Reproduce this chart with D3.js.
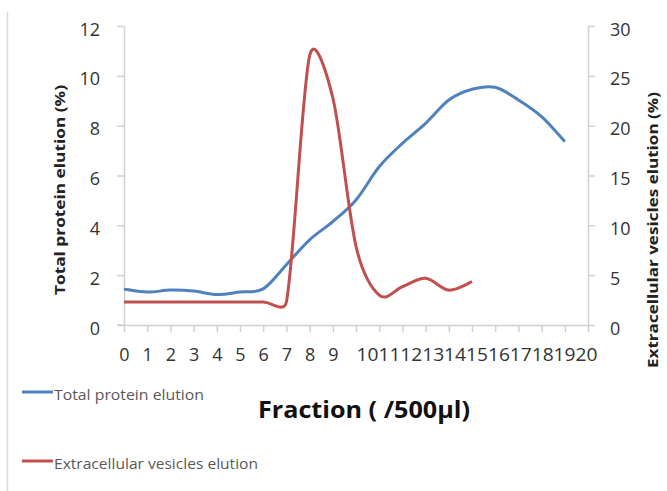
<!DOCTYPE html>
<html><head><meta charset="utf-8">
<script src="https://cdn.jsdelivr.net/npm/d3@7/dist/d3.min.js"></script>
<style>
html,body{margin:0;padding:0;background:#fff;}
svg{display:block;font-family:"Open Sans","Liberation Sans",sans-serif;}
</style></head>
<body>
<svg id="c" width="667" height="491"></svg>
<script>
// ---- data ----
const xTicks = d3.range(0, 21);            // fraction tick labels 0..20
const proteinFractions = d3.range(0, 20);  // 0..19
const proteinValues = [1.44, 1.32, 1.40, 1.36, 1.22, 1.32, 1.45, 2.42, 3.42, 4.15,
                       5.02, 6.35, 7.29, 8.09, 9.03, 9.46, 9.54, 9.03, 8.36, 7.36];
const vesicleFractions = d3.range(0, 16);  // 0..15
const vesicleValues = [2.3, 2.3, 2.3, 2.3, 2.3, 2.3, 2.3, 2.3, 27.0, 22.8,
                       7.9, 3.0, 3.84, 4.68, 3.5, 4.35];
const leftTicks = [0, 2, 4, 6, 8, 10, 12];
const rightTicks = [0, 5, 10, 15, 20, 25, 30];
const seriesNames = ["Total protein elution", "Extracellular vesicles elution"];
const seriesColors = ["#4F81BD", "#C0504D"];

// ---- spreadsheet-style smoothed curve (Bezier with limited control arms) ----
function SmoothCurve(context) { this._context = context; }
SmoothCurve.prototype = {
  areaStart() {}, areaEnd() {},
  lineStart() { this._pts = []; },
  point(x, y) { this._pts.push([+x, +y]); },
  lineEnd() {
    const p = this._pts, n = p.length, c = this._context;
    if (!n) return;
    c.moveTo(p[0][0], p[0][1]);
    const dist = (a, b) => Math.hypot(a[0] - b[0], a[1] - b[1]);
    for (let i = 0; i < n - 1; i++) {
      const p0 = p[i - 1] || p[i], p1 = p[i], p2 = p[i + 1], p3 = p[i + 2] || p[i + 1];
      const d12 = dist(p1, p2), d02 = dist(p0, p2), d13 = dist(p1, p3);
      let f1 = 1 / 6, f2 = 1 / 6;
      if (d02 / 6 > d12 / 2 && d02 > 0) f1 = d12 / (2 * d02);
      if (d13 / 6 > d12 / 2 && d13 > 0) f2 = d12 / (2 * d13);
      const c1 = [p1[0] + (p2[0] - p0[0]) * f1, p1[1] + (p2[1] - p0[1]) * f1];
      const c2 = [p2[0] - (p3[0] - p1[0]) * f2, p2[1] - (p3[1] - p1[1]) * f2];
      c.bezierCurveTo(c1[0], c1[1], c2[0], c2[1], p2[0], p2[1]);
    }
  }
};
const smooth = ctx => new SmoothCurve(ctx);

// ---- chart ----
const svg = d3.select("#c");
const x = d3.scaleLinear().domain([0, 20]).range([124, 588]);
const yL = d3.scaleLinear().domain([0, 12]).range([325, 26]);
const yR = d3.scaleLinear().domain([0, 30]).range([325, 26]);
const axisColor = "#d0d0d0";
const textColor = "#333";

svg.append("line").attr("x1", 7.5).attr("x2", 7.5).attr("y1", 12).attr("y2", 491)
  .attr("stroke", "#d9d9d9").attr("stroke-width", 1.5);

function styleAxis(g) {
  g.select(".domain").attr("stroke", axisColor).attr("stroke-width", 1.5);
  g.selectAll(".tick line").attr("stroke", axisColor).attr("stroke-width", 1.5);
  g.selectAll(".tick text").attr("fill", textColor).style("font-size", "18px")
    .style("font-family", "'Open Sans','Liberation Sans',sans-serif");
}

const gx = svg.append("g").attr("transform", "translate(0,325)")
  .call(d3.axisBottom(x).tickValues(xTicks).tickFormat(d3.format("d"))
    .tickSize(7).tickSizeOuter(0).tickPadding(16));
styleAxis(gx);
// two-digit labels are squeezed together as in the original
gx.selectAll(".tick text").filter(d => d >= 10)
  .attr("textLength", 22).attr("lengthAdjust", "spacingAndGlyphs")
  .attr("dx", d => 11 - 1.3 * (d - 10));

const gl = svg.append("g").attr("transform", "translate(124,0)")
  .call(d3.axisLeft(yL).tickValues(leftTicks).tickSize(7).tickSizeOuter(0).tickPadding(17));
styleAxis(gl);
gl.selectAll(".tick text").attr("dy", "0.5em");

const gr = svg.append("g").attr("transform", "translate(588,0)")
  .call(d3.axisRight(yR).tickValues(rightTicks).tickSize(7).tickSizeOuter(0).tickPadding(15));
styleAxis(gr);
gr.selectAll(".tick text").attr("dy", "0.5em");

svg.append("line").attr("x1", 117).attr("x2", 124).attr("y1", 325).attr("y2", 325)
  .attr("stroke", axisColor).attr("stroke-width", 1.5);

// lines
const lineL = d3.line().x(d => x(d[0])).y(d => yL(d[1])).curve(smooth);
const lineR = d3.line().x(d => x(d[0])).y(d => yR(d[1])).curve(smooth);

svg.append("path").datum(d3.zip(proteinFractions, proteinValues))
  .attr("d", lineL).attr("fill", "none").attr("stroke", seriesColors[0])
  .attr("stroke-width", 3).attr("stroke-linejoin", "round");
svg.append("path").datum(d3.zip(vesicleFractions, vesicleValues))
  .attr("d", lineR).attr("fill", "none").attr("stroke", seriesColors[1])
  .attr("stroke-width", 3).attr("stroke-linejoin", "round");

// axis titles
svg.append("text").attr("transform", "translate(65,190) rotate(-90)")
  .attr("text-anchor", "middle").attr("font-weight", "bold").attr("font-size", 15)
  .attr("fill", "#222").attr("textLength", 210).attr("lengthAdjust", "spacingAndGlyphs")
  .text("Total protein elution (%)");
svg.append("text").attr("transform", "translate(658,230) rotate(-90)")
  .attr("text-anchor", "middle").attr("font-weight", "bold").attr("font-size", 15)
  .attr("fill", "#222").attr("textLength", 276).attr("lengthAdjust", "spacingAndGlyphs")
  .text("Extracellular vesicles elution (%)");
svg.append("text").attr("x", 364).attr("y", 418)
  .attr("text-anchor", "middle").attr("font-weight", "bold").attr("font-size", 24)
  .attr("fill", "#111").attr("textLength", 212).attr("lengthAdjust", "spacingAndGlyphs")
  .text("Fraction ( /500µl)");

// legend
const legendY = [392, 461];
const legendLen = [150, 204];
seriesNames.forEach((name, i) => {
  svg.append("line").attr("x1", 22).attr("x2", 53).attr("y1", legendY[i]).attr("y2", legendY[i])
    .attr("stroke", seriesColors[i]).attr("stroke-width", 3);
  svg.append("text").attr("x", 54).attr("y", legendY[i] + 8)
    .attr("font-size", 15).attr("fill", "#595959")
    .attr("textLength", legendLen[i]).attr("lengthAdjust", "spacingAndGlyphs")
    .text(name);
});
</script>
</body></html>
